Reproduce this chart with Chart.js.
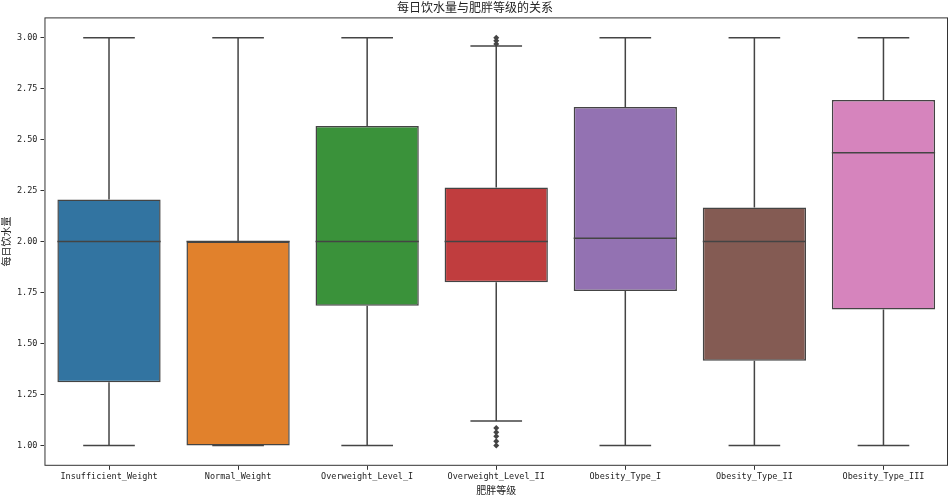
<!DOCTYPE html>
<html>
<head>
<meta charset="utf-8">
<script src="https://cdn.jsdelivr.net/npm/chart.js@4/dist/chart.umd.min.js"></script>
<style>
  html, body { margin: 0; padding: 0; background: #fff; }
  #wrap { width: 952px; height: 496px; }
</style>
</head>
<body>
<div id="wrap"><canvas id="myChart" width="952" height="496"></canvas></div>
<script>
"use strict";

// ========== DATA ==========
var categories = ["Insufficient_Weight", "Normal_Weight", "Overweight_Level_I", "Overweight_Level_II",
  "Obesity_Type_I", "Obesity_Type_II", "Obesity_Type_III"];
var whiskerLow  = [1.00, 1.00, 1.00, 1.12, 1.00, 1.00, 1.00];
var q1Values    = [1.31, 1.00, 1.685, 1.80, 1.758, 1.415, 1.667];
var medianVals  = [2.00, 2.00, 2.00, 2.00, 2.016, 2.00, 2.436];
var q3Values    = [2.206, 2.00, 2.567, 2.265, 2.66, 2.167, 2.695];
var whiskerHigh = [3.00, 3.00, 3.00, 2.96, 3.00, 3.00, 3.00];
var outlierCat  = ["Overweight_Level_II", "Overweight_Level_II", "Overweight_Level_II",
  "Overweight_Level_II", "Overweight_Level_II", "Overweight_Level_II", "Overweight_Level_II", "Overweight_Level_II"];
var outlierVals = [3.00, 2.985, 2.97, 1.085, 1.065, 1.045, 1.02, 1.00];
var yTicks = [1.00, 1.25, 1.50, 1.75, 2.00, 2.25, 2.50, 2.75, 3.00];

var boxColors = ["#3274a1", "#e1812c", "#3a923a", "#c03d3e", "#9372b2", "#845b53", "#d684bd"];
var lineColor = "#444444";
var monoFont = "'DejaVu Sans Mono', monospace";
var cjkFont = "'Noto Sans CJK SC', sans-serif";

// ========== PLUGIN: WHISKERS, MEDIANS, FRAME ==========
var boxPlotParts = {
  id: "boxPlotParts",
  beforeDatasetsDraw: function (chart) {
    var ctx = chart.ctx, y = chart.scales.y, bars = chart.getDatasetMeta(0).data;
    ctx.save();
    ctx.strokeStyle = lineColor;
    ctx.lineWidth = 1.5;
    bars.forEach(function (bar, i) {
      var x = bar.x, half = bar.width / 4;
      ctx.beginPath();
      ctx.moveTo(x, y.getPixelForValue(q3Values[i]));
      ctx.lineTo(x, y.getPixelForValue(whiskerHigh[i]));
      ctx.moveTo(x, y.getPixelForValue(q1Values[i]));
      ctx.lineTo(x, y.getPixelForValue(whiskerLow[i]));
      ctx.moveTo(x - half, y.getPixelForValue(whiskerHigh[i]));
      ctx.lineTo(x + half, y.getPixelForValue(whiskerHigh[i]));
      ctx.moveTo(x - half, y.getPixelForValue(whiskerLow[i]));
      ctx.lineTo(x + half, y.getPixelForValue(whiskerLow[i]));
      ctx.stroke();
    });
    ctx.restore();
  },
  afterDatasetsDraw: function (chart) {
    var ctx = chart.ctx, y = chart.scales.y, bars = chart.getDatasetMeta(0).data;
    ctx.save();
    ctx.strokeStyle = lineColor;
    ctx.lineWidth = 1.5;
    bars.forEach(function (bar, i) {
      var py = y.getPixelForValue(medianVals[i]);
      ctx.beginPath();
      ctx.moveTo(bar.x - bar.width / 2, py);
      ctx.lineTo(bar.x + bar.width / 2, py);
      ctx.stroke();
    });
    var a = chart.chartArea;
    ctx.strokeStyle = "#333";
    ctx.lineWidth = 1;
    ctx.strokeRect(a.left + 0.5, a.top + 0.5, a.right - a.left - 1, a.bottom - a.top - 1);
    ctx.restore();
  }
};

var ctx = document.getElementById("myChart").getContext("2d");
new Chart(ctx, {
  type: "bar",
  data: {
    labels: categories,
    datasets: [
      {
        label: "box",
        data: q1Values.map(function (v, i) { return [v, q3Values[i]]; }),
        backgroundColor: boxColors,
        borderColor: lineColor,
        borderWidth: 1.5,
        borderSkipped: false,
        categoryPercentage: 0.8,
        barPercentage: 1.0,
        order: 2
      },
      {
        type: "line",
        label: "outliers",
        data: outlierVals.map(function (v, i) { return { x: outlierCat[i], y: v }; }),
        showLine: false,
        pointStyle: "rectRot",
        pointRadius: 3,
        pointBackgroundColor: lineColor,
        pointBorderColor: lineColor,
        pointBorderWidth: 0,
        order: 1
      }
    ]
  },
  plugins: [boxPlotParts],
  options: {
    responsive: false,
    animation: false,
    layout: { padding: { left: 0, right: 2, top: 0, bottom: 0 } },
    plugins: {
      legend: { display: false },
      tooltip: { enabled: false },
      title: {
        display: true,
        text: "每日饮水量与肥胖等级的关系",
        color: "#222",
        font: { family: cjkFont, size: 12, weight: "normal" },
        padding: { top: 0, bottom: 3 }
      }
    },
    scales: {
      x: {
        offset: true,
        grid: { display: true, offset: false, drawOnChartArea: false, drawTicks: true, tickLength: 4, color: "#333" },
        border: { display: false },
        ticks: { color: "#222", font: { family: monoFont, size: 8.5 }, padding: 2, maxRotation: 0 },
        title: { display: true, text: "肥胖等级", color: "#222", font: { family: cjkFont, size: 10 }, padding: { top: 0, bottom: 0 } }
      },
      y: {
        min: 0.9,
        max: 3.1,
        afterBuildTicks: function (axis) {
          axis.ticks = yTicks.map(function (v) { return { value: v }; });
        },
        grid: { display: true, drawOnChartArea: false, drawTicks: true, tickLength: 4, color: "#333" },
        border: { display: false },
        ticks: {
          color: "#222",
          font: { family: monoFont, size: 8.5 },
          padding: 3,
          callback: function (v) { return Number(v).toFixed(2); }
        },
        title: { display: true, text: "每日饮水量", color: "#222", font: { family: cjkFont, size: 10 }, padding: { top: 0, bottom: 2 } }
      }
    }
  }
});
</script>
</body>
</html>
